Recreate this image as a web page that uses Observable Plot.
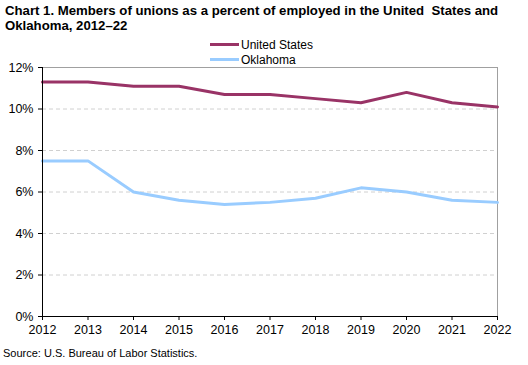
<!DOCTYPE html>
<html>
<head>
<meta charset="utf-8">
<script src="https://cdn.jsdelivr.net/npm/d3@7"></script>
<script src="https://cdn.jsdelivr.net/npm/@observablehq/plot@0.6"></script>
<style>
  body { margin: 0; background: #fff; font-family: "Liberation Sans", Arial, sans-serif; }
  #wrap { position: relative; width: 528px; height: 365px; overflow: hidden; }
  #title { position: absolute; left: 5px; top: 3px; font-weight: bold; font-size: 13.2px; line-height: 15px; color: #000; white-space: nowrap; z-index: 2; }
  #legend { position: absolute; left: 210px; top: 37px; font-size: 12px; color: #000; z-index: 2; }
  .lg { display: flex; align-items: center; height: 15px; }
  .sw { width: 29px; height: 3px; margin-right: 2px; }
  #chart { position: absolute; left: 0; top: 36px; z-index: 1; }
  #source { position: absolute; left: 3px; top: 347px; font-size: 11px; color: #000; z-index: 2; }
</style>
</head>
<body>
<div id="wrap">
  <div id="title">Chart 1. Members of unions as a percent of employed in the United&nbsp; States and<br>Oklahoma, 2012–22</div>
  <div id="legend"></div>
  <div id="chart"></div>
  <div id="source">Source: U.S. Bureau of Labor Statistics.</div>
</div>
<script>
const years = [2012, 2013, 2014, 2015, 2016, 2017, 2018, 2019, 2020, 2021, 2022];
const unitedStates = [11.3, 11.3, 11.1, 11.1, 10.7, 10.7, 10.5, 10.3, 10.8, 10.3, 10.1];
const oklahoma = [7.5, 7.5, 6.0, 5.6, 5.4, 5.5, 5.7, 6.2, 6.0, 5.6, 5.5];
const seriesNames = ["United States", "Oklahoma"];
const seriesColors = ["#993366", "#99CCFF"];
const yTicks = [0, 2, 4, 6, 8, 10, 12];
const gridTicks = [2, 4, 6, 8, 10];

const rows = [];
years.forEach((y, i) => {
  rows.push({year: y, value: unitedStates[i], series: seriesNames[0]});
  rows.push({year: y, value: oklahoma[i], series: seriesNames[1]});
});

const legend = document.getElementById("legend");
seriesNames.forEach((n, i) => {
  const row = document.createElement("div");
  row.className = "lg";
  row.innerHTML = `<span class="sw" style="background:${seriesColors[i]}"></span><span>${n}</span>`;
  legend.appendChild(row);
});

const chart = Plot.plot({
  width: 528,
  height: 312,
  marginTop: 31,
  marginBottom: 32,
  marginLeft: 42,
  marginRight: 31,
  style: {fontFamily: "'Liberation Sans', Arial, sans-serif", fontSize: "12.5px", color: "#000", background: "transparent"},
  x: {domain: [2012, 2022]},
  y: {domain: [0, 12]},
  color: {domain: seriesNames, range: seriesColors},
  marks: [
    Plot.ruleY(gridTicks, {stroke: "#d0d0d0", strokeDasharray: "4,3"}),
    Plot.ruleY([12], {stroke: "#a0a0a0"}),
    Plot.ruleX([2022], {stroke: "#a0a0a0"}),
    Plot.lineY(rows, {x: "year", y: "value", stroke: "series", strokeWidth: 3, curve: "linear"}),
    Plot.ruleX([2012], {stroke: "#000"}),
    Plot.ruleY([0], {stroke: "#000"}),
    Plot.axisY({ticks: yTicks, tickFormat: d => d + "%", tickSize: 4, tickPadding: 5, label: null, stroke: "#000"}),
    Plot.axisX({ticks: years, tickFormat: d => String(d), tickSize: 4, tickPadding: 5, label: null, stroke: "#000"})
  ]
});
document.getElementById("chart").appendChild(chart);
</script>
</body>
</html>
